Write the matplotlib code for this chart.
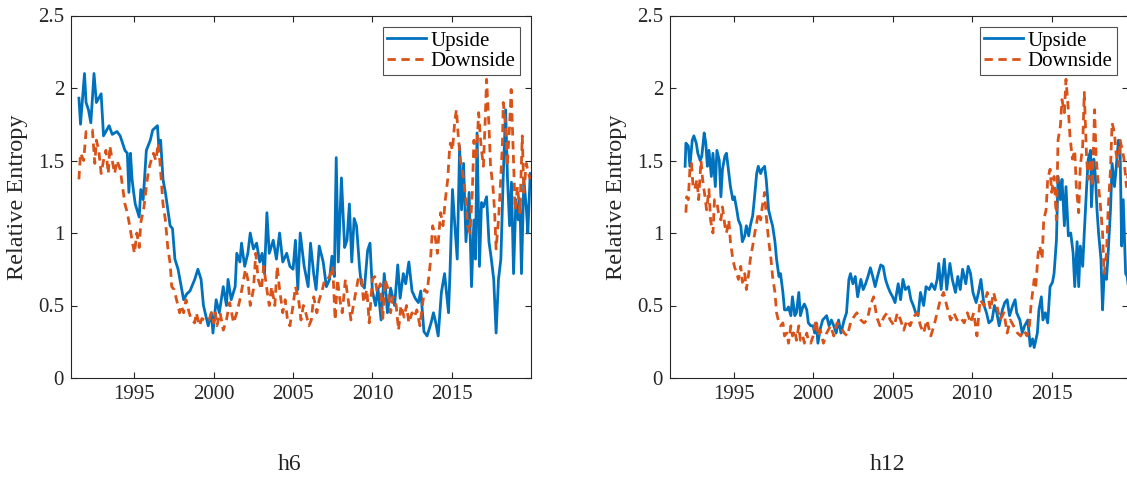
import matplotlib
matplotlib.use("Agg")
import matplotlib.pyplot as plt
from matplotlib.ticker import FuncFormatter

# ---------------- data ----------------
h6_up_x = [1991.50,1991.60,1991.85,1991.95,1992.10,1992.25,1992.45,1992.60,1992.90,1993.05,
           1993.40,1993.60,1993.90,1994.10,1994.40,1994.55,1994.65,1994.75,1994.85,1994.95,
           1995.05,1995.30,1995.40,1995.55,1995.75,1996.00,1996.15,1996.45,1996.55,1996.65,
           1996.80,1996.95,1997.25,1997.40,1997.55,1997.75,1997.95,1998.10,1998.30,1998.50,
           1998.80,1999.00,1999.20,1999.35,1999.65,1999.85,1999.95,2000.15,2000.35,2000.60,
           2000.80,2000.90,2001.10,2001.35,2001.45,2001.65,2001.75,2001.95,2002.15,2002.30,
           2002.50,2002.70,2002.90,2003.05,2003.20,2003.35,2003.50,2003.75,2003.95,2004.15,
           2004.35,2004.60,2004.80,2005.00,2005.15,2005.30,2005.45,2005.70,2005.95,2006.10,
           2006.30,2006.45,2006.65,2006.90,2007.10,2007.30,2007.45,2007.60,2007.72,2007.85,
           2008.05,2008.25,2008.40,2008.55,2008.70,2008.85,2009.00,2009.20,2009.30,2009.50,
           2009.70,2009.85,2010.00,2010.20,2010.35,2010.55,2010.75,2010.95,2011.15,2011.40,
           2011.60,2011.75,2011.95,2012.10,2012.30,2012.50,2012.70,2012.90,2013.05,2013.25,
           2013.45,2013.70,2013.85,2014.00,2014.15,2014.35,2014.55,2014.80,2014.90,2015.05,
           2015.20,2015.35,2015.50,2015.62,2015.75,2015.90,2016.10,2016.25,2016.40,2016.50,
           2016.60,2016.75,2016.88,2017.00,2017.20,2017.35,2017.50,2017.65,2017.80,2017.95,
           2018.10,2018.25,2018.40,2018.52,2018.65,2018.77,2018.90,2019.05,2019.20,2019.30,
           2019.40,2019.55,2019.70,2019.80,2019.95]
h6_up_y = [1.93,1.75,2.10,1.90,1.85,1.76,2.10,1.90,1.96,1.67,
           1.74,1.68,1.70,1.67,1.57,1.55,1.28,1.55,1.37,1.28,
           1.20,1.11,1.30,1.23,1.57,1.64,1.71,1.74,1.57,1.64,
           1.37,1.28,1.05,1.03,0.82,0.75,0.63,0.54,0.58,0.60,
           0.68,0.75,0.68,0.50,0.36,0.45,0.31,0.54,0.45,0.63,
           0.50,0.68,0.54,0.63,0.86,0.80,0.93,0.77,0.86,1.00,
           0.89,0.93,0.80,0.86,0.72,1.14,0.86,0.95,0.82,1.00,
           0.80,0.86,0.77,0.75,0.95,0.61,1.00,0.77,0.63,0.93,
           0.72,0.61,0.91,0.80,0.63,0.68,0.84,0.70,1.52,0.80,
           1.38,0.90,0.95,1.20,0.80,1.10,1.05,0.75,0.65,0.62,
           0.88,0.93,0.60,0.50,0.62,0.40,0.72,0.45,0.62,0.50,
           0.78,0.55,0.72,0.65,0.80,0.60,0.55,0.52,0.60,0.32,
           0.29,0.38,0.45,0.38,0.29,0.59,0.72,0.45,0.75,1.30,
           1.05,0.82,1.60,1.16,1.48,0.94,1.28,0.63,1.09,0.82,
           1.69,0.77,1.21,1.18,1.25,0.94,0.82,0.68,0.31,0.68,
           0.82,1.39,1.85,1.37,1.05,1.35,0.72,1.23,1.09,1.23,
           0.72,1.37,1.18,1.00,1.41]

h6_dn_x = [1991.50,1991.60,1991.80,1991.95,1992.15,1992.35,1992.50,1992.60,1992.75,1992.90,
           1993.05,1993.20,1993.35,1993.45,1993.60,1993.75,1993.90,1994.10,1994.25,1994.40,
           1994.55,1994.70,1994.85,1995.00,1995.15,1995.30,1995.40,1995.60,1995.75,1995.90,
           1996.05,1996.20,1996.35,1996.50,1996.60,1996.80,1996.95,1997.10,1997.25,1997.35,
           1997.50,1997.65,1997.85,1997.95,1998.10,1998.25,1998.45,1998.60,1998.80,1998.90,
           1999.10,1999.25,1999.40,1999.55,1999.70,1999.85,2000.00,2000.10,2000.20,2000.40,
           2000.60,2000.80,2001.00,2001.25,2001.45,2001.65,2001.80,2002.00,2002.15,2002.30,
           2002.50,2002.65,2002.80,2003.00,2003.15,2003.35,2003.50,2003.65,2003.85,2004.00,
           2004.15,2004.35,2004.50,2004.65,2004.80,2005.00,2005.15,2005.35,2005.50,2005.65,
           2005.80,2006.00,2006.15,2006.30,2006.50,2006.65,2006.80,2007.00,2007.15,2007.30,
           2007.50,2007.65,2007.80,2007.95,2008.10,2008.30,2008.45,2008.65,2008.80,2008.95,
           2009.10,2009.30,2009.45,2009.65,2009.80,2010.00,2010.15,2010.30,2010.50,2010.65,
           2010.80,2011.00,2011.15,2011.30,2011.50,2011.65,2011.80,2012.00,2012.15,2012.30,
           2012.50,2012.65,2012.80,2013.00,2013.15,2013.30,2013.45,2013.65,2013.80,2013.95,
           2014.10,2014.30,2014.45,2014.60,2014.75,2014.85,2014.92,2015.05,2015.20,2015.30,
           2015.40,2015.55,2015.70,2015.90,2016.00,2016.15,2016.30,2016.40,2016.55,2016.70,
           2016.85,2017.00,2017.10,2017.20,2017.35,2017.45,2017.60,2017.70,2017.80,2017.95,
           2018.05,2018.20,2018.25,2018.40,2018.50,2018.65,2018.75,2018.90,2019.00,2019.15,
           2019.30,2019.45,2019.55,2019.70,2019.85,2019.95]
h6_dn_y = [1.37,1.55,1.50,1.70,1.70,1.71,1.48,1.64,1.57,1.41,
           1.50,1.57,1.41,1.60,1.50,1.41,1.50,1.44,1.32,1.20,
           1.14,1.05,0.95,0.86,1.00,0.90,1.07,1.18,1.32,1.44,
           1.50,1.55,1.50,1.62,1.50,1.20,1.09,0.90,0.79,0.63,
           0.61,0.54,0.45,0.50,0.45,0.54,0.45,0.40,0.38,0.45,
           0.36,0.41,0.40,0.41,0.40,0.45,0.38,0.45,0.36,0.45,
           0.33,0.40,0.52,0.38,0.45,0.54,0.63,0.75,0.68,0.50,
           0.61,0.86,0.68,0.61,0.77,0.61,0.50,0.63,0.50,0.77,
           0.61,0.45,0.54,0.40,0.36,0.50,0.63,0.54,0.40,0.50,
           0.45,0.36,0.40,0.56,0.45,0.54,0.59,0.68,0.68,0.70,
           0.77,0.40,0.68,0.54,0.45,0.68,0.56,0.40,0.50,0.59,
           0.68,0.70,0.52,0.61,0.38,0.68,0.70,0.59,0.65,0.40,
           0.68,0.61,0.45,0.56,0.50,0.33,0.50,0.42,0.50,0.38,
           0.45,0.42,0.47,0.36,0.50,0.61,0.59,0.79,1.05,0.98,
           0.86,1.14,1.05,1.23,1.37,1.55,1.62,1.57,1.78,1.85,
           1.69,1.50,1.41,1.23,1.05,1.00,1.28,1.64,1.50,1.83,
           1.60,1.46,1.74,2.06,1.74,1.46,1.32,1.16,0.89,1.09,
           1.28,1.62,1.90,1.74,1.46,1.74,1.99,1.50,1.16,1.32,
           1.14,1.67,1.28,1.48,1.41,1.37]

h12_up_x = [1991.95,1992.00,1992.15,1992.25,1992.40,1992.50,1992.65,1992.75,1992.90,1993.00,
            1993.15,1993.25,1993.35,1993.45,1993.60,1993.70,1993.85,1993.95,1994.10,1994.20,
            1994.30,1994.45,1994.55,1994.70,1994.80,1994.95,1995.05,1995.20,1995.30,1995.45,
            1995.55,1995.70,1995.80,1995.95,1996.05,1996.20,1996.30,1996.45,1996.55,1996.70,
            1996.80,1996.95,1997.05,1997.20,1997.35,1997.45,1997.60,1997.70,1997.85,1997.95,
            1998.10,1998.20,1998.35,1998.45,1998.60,1998.70,1998.85,1998.95,1999.10,1999.20,
            1999.35,1999.45,1999.60,1999.70,1999.85,2000.00,2000.10,2000.20,2000.30,2000.45,
            2000.60,2000.85,2001.00,2001.15,2001.30,2001.45,2001.60,2001.75,2001.95,2002.10,
            2002.25,2002.35,2002.50,2002.65,2002.80,2003.00,2003.15,2003.30,2003.45,2003.60,
            2003.75,2003.90,2004.05,2004.25,2004.40,2004.55,2004.70,2004.85,2005.00,2005.15,
            2005.35,2005.50,2005.65,2005.80,2006.00,2006.15,2006.30,2006.45,2006.60,2006.75,
            2006.95,2007.10,2007.30,2007.45,2007.65,2007.80,2007.90,2008.05,2008.25,2008.40,
            2008.60,2008.75,2008.95,2009.10,2009.25,2009.40,2009.60,2009.75,2009.90,2010.05,
            2010.25,2010.40,2010.55,2010.75,2010.90,2011.05,2011.25,2011.40,2011.55,2011.70,
            2011.90,2012.05,2012.20,2012.35,2012.55,2012.70,2012.80,2013.00,2013.15,2013.30,
            2013.50,2013.65,2013.80,2013.90,2014.10,2014.20,2014.35,2014.45,2014.60,2014.75,
            2014.90,2015.05,2015.15,2015.30,2015.40,2015.55,2015.65,2015.80,2015.90,2016.05,
            2016.20,2016.35,2016.45,2016.60,2016.70,2016.80,2016.95,2017.05,2017.20,2017.30,
            2017.45,2017.50,2017.65,2017.75,2017.85,2017.95,2018.10,2018.20,2018.30,2018.45,
            2018.55,2018.70,2018.80,2018.95,2019.05,2019.20,2019.30,2019.40,2019.50,2019.65,
            2019.75,2019.85]
h12_up_y = [1.46,1.62,1.60,1.46,1.64,1.67,1.62,1.55,1.50,1.53,
            1.69,1.62,1.46,1.57,1.39,1.55,1.32,1.57,1.50,1.25,
            1.44,1.53,1.55,1.41,1.32,1.23,1.25,1.16,1.09,1.05,
            0.94,0.98,1.05,0.98,1.05,1.12,1.23,1.41,1.46,1.41,
            1.44,1.46,1.37,1.16,1.09,1.05,0.94,0.82,0.70,0.72,
            0.59,0.47,0.47,0.49,0.43,0.56,0.43,0.45,0.59,0.43,
            0.49,0.51,0.47,0.38,0.36,0.36,0.31,0.38,0.24,0.34,
            0.40,0.43,0.36,0.40,0.36,0.31,0.40,0.31,0.40,0.45,
            0.68,0.72,0.65,0.70,0.56,0.68,0.61,0.65,0.70,0.76,
            0.70,0.63,0.70,0.78,0.77,0.68,0.63,0.59,0.56,0.52,
            0.65,0.54,0.68,0.61,0.63,0.54,0.50,0.45,0.43,0.59,
            0.50,0.63,0.61,0.65,0.61,0.68,0.79,0.61,0.82,0.61,
            0.79,0.68,0.59,0.70,0.61,0.75,0.65,0.77,0.72,0.59,
            0.52,0.59,0.68,0.50,0.45,0.38,0.40,0.50,0.45,0.36,
            0.47,0.52,0.54,0.43,0.50,0.54,0.45,0.40,0.31,0.36,
            0.40,0.22,0.27,0.21,0.31,0.47,0.56,0.40,0.45,0.38,
            0.63,0.66,0.72,0.95,1.39,1.23,1.37,1.05,1.32,0.98,
            1.00,0.86,0.63,0.94,0.63,0.91,0.77,1.00,1.32,1.51,
            1.57,1.18,1.51,1.39,1.16,1.00,0.82,0.47,0.72,0.68,
            0.86,1.16,1.48,1.32,1.44,1.64,1.60,0.91,1.23,0.72,
            0.70,0.60]

h12_dn_x = [1992.00,1992.05,1992.15,1992.25,1992.35,1992.45,1992.55,1992.70,1992.80,1992.95,
            1993.05,1993.20,1993.30,1993.45,1993.55,1993.70,1993.80,1993.95,1994.05,1994.20,
            1994.30,1994.45,1994.55,1994.70,1994.80,1994.95,1995.05,1995.20,1995.30,1995.45,
            1995.55,1995.70,1995.80,1995.95,1996.05,1996.20,1996.30,1996.45,1996.55,1996.70,
            1996.80,1996.95,1997.05,1997.20,1997.35,1997.45,1997.60,1997.70,1997.85,1997.95,
            1998.10,1998.20,1998.35,1998.45,1998.60,1998.70,1998.85,1998.95,1999.10,1999.20,
            1999.35,1999.45,1999.60,1999.70,1999.85,2000.00,2000.10,2000.20,2000.30,2000.45,
            2000.65,2000.85,2001.10,2001.30,2001.50,2001.70,2001.95,2002.15,2002.35,2002.55,
            2002.75,2003.00,2003.20,2003.40,2003.60,2003.80,2004.00,2004.20,2004.45,2004.65,
            2004.85,2005.10,2005.30,2005.50,2005.70,2005.90,2006.10,2006.30,2006.55,2006.75,
            2006.95,2007.15,2007.40,2007.60,2007.80,2008.00,2008.20,2008.40,2008.65,2008.85,
            2009.05,2009.25,2009.50,2009.70,2009.90,2010.10,2010.30,2010.50,2010.75,2010.95,
            2011.15,2011.35,2011.55,2011.75,2012.00,2012.20,2012.40,2012.60,2012.85,2013.05,
            2013.25,2013.45,2013.60,2013.70,2013.90,2014.00,2014.15,2014.25,2014.40,2014.50,
            2014.65,2014.75,2014.90,2015.00,2015.15,2015.30,2015.40,2015.55,2015.65,2015.80,
            2015.90,2016.05,2016.15,2016.30,2016.45,2016.55,2016.70,2016.80,2016.95,2017.05,
            2017.20,2017.30,2017.45,2017.55,2017.70,2017.80,2017.95,2018.05,2018.20,2018.30,
            2018.45,2018.55,2018.70,2018.80,2018.95,2019.05,2019.20,2019.30,2019.45,2019.55,
            2019.70,2019.85]
h12_dn_y = [1.14,1.25,1.23,1.44,1.48,1.32,1.30,1.37,1.23,1.50,
            1.37,1.25,1.16,1.30,1.09,1.00,1.23,1.21,1.14,1.09,
            1.18,1.05,1.00,1.09,0.94,0.82,0.77,0.72,0.68,0.77,
            0.66,0.72,0.61,0.72,0.82,0.91,0.98,1.07,1.14,1.09,
            1.18,1.28,1.12,0.95,0.82,0.70,0.59,0.45,0.38,0.36,
            0.38,0.29,0.31,0.24,0.36,0.29,0.33,0.26,0.36,0.26,
            0.29,0.24,0.31,0.26,0.24,0.29,0.36,0.40,0.29,0.33,
            0.24,0.31,0.36,0.29,0.38,0.36,0.31,0.29,0.38,0.42,
            0.45,0.40,0.38,0.40,0.50,0.56,0.42,0.36,0.42,0.45,
            0.40,0.36,0.45,0.40,0.33,0.40,0.36,0.42,0.45,0.36,
            0.31,0.40,0.29,0.36,0.45,0.54,0.59,0.50,0.40,0.45,
            0.40,0.42,0.38,0.45,0.38,0.45,0.29,0.54,0.50,0.59,
            0.47,0.59,0.50,0.40,0.45,0.31,0.40,0.36,0.31,0.29,
            0.33,0.29,0.36,0.50,0.68,0.63,0.86,0.91,0.82,1.09,
            1.16,1.37,1.44,1.28,1.39,1.09,1.64,1.74,1.92,1.83,
            2.06,1.85,1.67,1.51,1.57,1.32,1.14,1.46,1.60,1.97,
            1.51,1.37,1.51,1.32,1.85,1.51,1.32,1.21,1.00,0.72,
            0.86,1.16,1.44,1.76,1.69,1.55,1.46,1.64,1.57,1.51,
            1.32,1.45]

y_ticks = [0, 0.5, 1, 1.5, 2, 2.5]
x_ticks = [1995, 2000, 2005, 2010, 2015]
panel_titles = ["h6", "h12"]
series_labels = ["Upside", "Downside"]
y_label = "Relative Entropy"

# ---------------- style ----------------
BLUE = "#0072BD"
ORANGE = "#D95319"
AXC = "#262626"
SERIF = ["Liberation Serif", "DejaVu Serif"]
plt.rcParams["font.family"] = SERIF

W, H = 1127, 484
fig = plt.figure(figsize=(W / 100, H / 100), dpi=100)

def px_axes(x0, x1, y0, y1):
    return fig.add_axes([x0 / W, 1 - y1 / H, (x1 - x0) / W, (y1 - y0) / H])

ax1 = px_axes(71, 531, 15.5, 378)
ax2 = px_axes(670, 1128, 15.5, 378)

panels = [
    (ax1, h6_up_x, h6_up_y, h6_dn_x, h6_dn_y, (1991.0, 2020.0)),
    (ax2, h12_up_x, h12_up_y, h12_dn_x, h12_dn_y, (1991.0, 2019.8)),
]

for ax, ux, uy, dx, dy, xl in panels:
    ax.plot(ux, uy, color=BLUE, lw=2.0, label=series_labels[0])
    ax.plot(dx, dy, color=ORANGE, lw=2.0, dashes=(3.0, 2.0), label=series_labels[1])
    ax.set_xlim(*xl)
    ax.set_ylim(0, 2.5)
    ax.set_xticks(x_ticks)
    ax.set_yticks(y_ticks)
    ax.yaxis.set_major_formatter(FuncFormatter(lambda v, p: f"{v:g}"))
    ax.tick_params(direction="in", length=4, width=0.8, color=AXC,
                   labelcolor=AXC, labelsize=15, top=True, right=True, pad=5)
    for s in ax.spines.values():
        s.set_color(AXC)
        s.set_linewidth(0.8)
    ax.set_ylabel(y_label, fontsize=17.5, color=AXC, labelpad=7)
    leg = ax.legend(loc="upper right", fontsize=15, frameon=True, fancybox=False,
                    edgecolor=AXC, handlelength=1.9, handletextpad=0.2,
                    borderpad=0.2, labelspacing=0.05, borderaxespad=0.55)
    leg.get_frame().set_linewidth(0.8)

fig.text(290 / W, 1 - 465 / H, panel_titles[0], ha="center", va="center",
         fontsize=17, color="#222222")
fig.text(887 / W, 1 - 465 / H, panel_titles[1], ha="center", va="center",
         fontsize=17, color="#222222")

fig.savefig("out.png", dpi=100)
